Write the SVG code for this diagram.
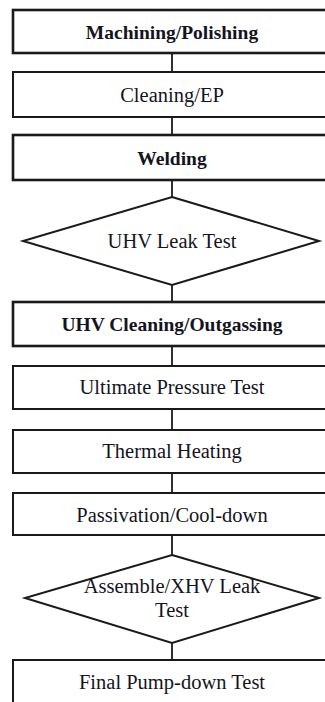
<svg xmlns="http://www.w3.org/2000/svg" width="325" height="702" viewBox="0 0 325 702">
  <style>
    .box { fill: #ffffff; stroke: #1a1a1a; stroke-width: 2; }
    .box.key { stroke-width: 2.6; }
    .dia { fill: #ffffff; stroke: #1a1a1a; stroke-width: 2; }
    .link { stroke: #1a1a1a; stroke-width: 1.8; fill: none; }
    .lbl { font-family: "Liberation Serif", "Times New Roman", serif; font-size: 20.5px; fill: #141420; text-anchor: middle; }
    .lbl.key { font-weight: bold; font-size: 19.5px; }
  </style>
  <rect width="325" height="702" fill="#ffffff"/>

  <!-- connectors between consecutive steps -->
  <g id="connectors">
    <line class="link" x1="172" y1="53" x2="172" y2="72"/>
    <line class="link" x1="172" y1="117" x2="172" y2="135"/>
    <line class="link" x1="172" y1="180" x2="172" y2="197"/>
    <line class="link" x1="172" y1="285" x2="172" y2="302"/>
    <line class="link" x1="172" y1="346" x2="172" y2="366"/>
    <line class="link" x1="172" y1="409" x2="172" y2="430"/>
    <line class="link" x1="172" y1="473" x2="172" y2="493"/>
    <line class="link" x1="172" y1="535" x2="172" y2="555"/>
    <line class="link" x1="172" y1="643" x2="172" y2="660"/>
  </g>

  <g id="machining">
    <rect class="box key" x="13" y="10" width="340" height="43"/>
    <text class="lbl key" x="172" y="39">Machining/Polishing</text>
  </g>
  <g id="cleaning-ep">
    <rect class="box" x="13" y="72" width="340" height="45"/>
    <text class="lbl" x="172" y="101.5">Cleaning/EP</text>
  </g>
  <g id="welding">
    <rect class="box key" x="13" y="135" width="340" height="45"/>
    <text class="lbl key" x="172" y="165">Welding</text>
  </g>
  <g id="uhv-leak">
    <polygon class="dia" points="172,197 319,241 172,285 23,241"/>
    <text class="lbl" x="172" y="248">UHV Leak Test</text>
  </g>
  <g id="uhv-cleaning">
    <rect class="box key" x="13" y="302" width="340" height="44"/>
    <text class="lbl key" x="172" y="331">UHV Cleaning/Outgassing</text>
  </g>
  <g id="ultimate-pressure">
    <rect class="box" x="13" y="366" width="340" height="43"/>
    <text class="lbl" x="172" y="394">Ultimate Pressure Test</text>
  </g>
  <g id="thermal-heating">
    <rect class="box" x="13" y="430" width="340" height="43"/>
    <text class="lbl" x="172" y="458">Thermal Heating</text>
  </g>
  <g id="passivation">
    <rect class="box" x="13" y="493" width="340" height="42"/>
    <text class="lbl" x="172" y="521.5">Passivation/Cool-down</text>
  </g>
  <g id="xhv-leak">
    <polygon class="dia" points="172,555 319,598 172,643 25,598"/>
    <text class="lbl" x="172" y="593">Assemble/XHV Leak</text>
    <text class="lbl" x="172" y="617">Test</text>
  </g>
  <g id="final-pumpdown">
    <rect class="box" x="13" y="660" width="340" height="60"/>
    <text class="lbl" x="172" y="689">Final Pump-down Test</text>
  </g>
</svg>
